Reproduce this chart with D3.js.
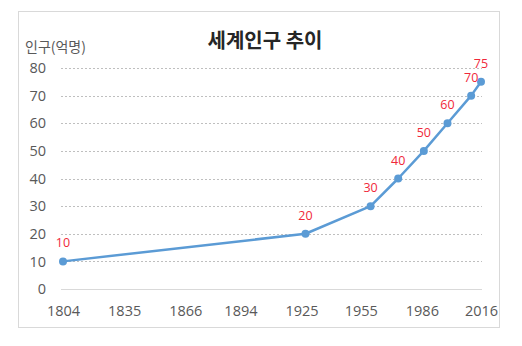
<!DOCTYPE html>
<html>
<head>
<meta charset="utf-8">
<script src="https://cdn.jsdelivr.net/npm/d3@7"></script>
<style>
  html, body { margin: 0; padding: 0; background: #fff; }
  svg { display: block; }
</style>
</head>
<body>
<svg id="chart" width="522" height="346"></svg>
<script>
const years = [1804, 1927, 1960, 1974, 1987, 1999, 2011, 2016];
const population = [10, 20, 30, 40, 50, 60, 70, 75];
const xTickLabels = [1804, 1835, 1866, 1894, 1925, 1955, 1986, 2016];
const yTicks = [0, 10, 20, 30, 40, 50, 60, 70, 80];
const title = "세계인구 추이";
const yAxisTitle = "인구(억명)";

const data = years.map((y, i) => ({ year: y, value: population[i] }));

const svg = d3.select("#chart");
const numFont = "'Open Sans', 'Noto Sans', sans-serif";
const krFont = "'Noto Sans CJK KR', sans-serif";

// chart frame
svg.append("rect")
  .attr("x", 18.5).attr("y", 11.5)
  .attr("width", 481).attr("height", 316)
  .attr("fill", "#fff").attr("stroke", "#d9d9d9").attr("stroke-width", 1);

const x = d3.scaleLinear().domain([1804, 2016]).range([63, 481]);
const y = d3.scaleLinear().domain([0, 80]).range([289, 68]);
const gridX0 = 61, gridX1 = 482;

// gridlines
const grid = svg.append("g");
grid.selectAll("line").data(yTicks).join("line")
  .attr("x1", gridX0).attr("x2", gridX1)
  .attr("y1", d => Math.round(y(d)) + 0.5).attr("y2", d => Math.round(y(d)) + 0.5)
  .attr("stroke", d => d === 0 ? "#d9d9d9" : "#bfbfbf")
  .attr("stroke-width", 1)
  .attr("stroke-dasharray", d => d === 0 ? null : "2,2");

// y axis labels
const yAxis = d3.axisLeft(y).tickValues(yTicks).tickSize(0).tickPadding(0);
const yg = svg.append("g").attr("transform", "translate(46,0)").call(yAxis);
yg.select(".domain").remove();
yg.selectAll("text")
  .attr("font-family", numFont).attr("font-size", 14.5).attr("fill", "#595959");

// x axis labels
const xAxis = d3.axisBottom(x).tickValues(xTickLabels).tickFormat(d3.format("d")).tickSize(0).tickPadding(0);
const xg = svg.append("g").attr("transform", "translate(0,306)").call(xAxis);
xg.select(".domain").remove();
xg.selectAll("text")
  .attr("font-family", numFont).attr("font-size", 14.5).attr("fill", "#595959");

// line
const line = d3.line().x(d => x(d.year)).y(d => y(d.value));
svg.append("path").datum(data)
  .attr("d", line)
  .attr("fill", "none").attr("stroke", "#5b9bd5")
  .attr("stroke-width", 2.5).attr("stroke-linejoin", "round");

svg.append("g").selectAll("circle").data(data).join("circle")
  .attr("cx", d => x(d.year)).attr("cy", d => y(d.value))
  .attr("r", 4).attr("fill", "#5b9bd5");

// data labels
svg.append("g").selectAll("text").data(data).join("text")
  .attr("x", d => x(d.year)).attr("y", d => y(d.value) - 14)
  .attr("text-anchor", "middle")
  .attr("font-family", numFont).attr("font-size", 12.5)
  .attr("fill", "#f0283a")
  .text(d => d.value);

// title
svg.append("text")
  .attr("x", 265).attr("y", 48)
  .attr("text-anchor", "middle")
  .attr("font-family", krFont).attr("font-weight", "bold").attr("font-size", 20)
  .attr("fill", "#262626")
  .text(title);

// y axis title
svg.append("text")
  .attr("x", 25).attr("y", 52)
  .attr("font-family", krFont).attr("font-size", 14)
  .attr("fill", "#595959")
  .text(yAxisTitle);
</script>
</body>
</html>
